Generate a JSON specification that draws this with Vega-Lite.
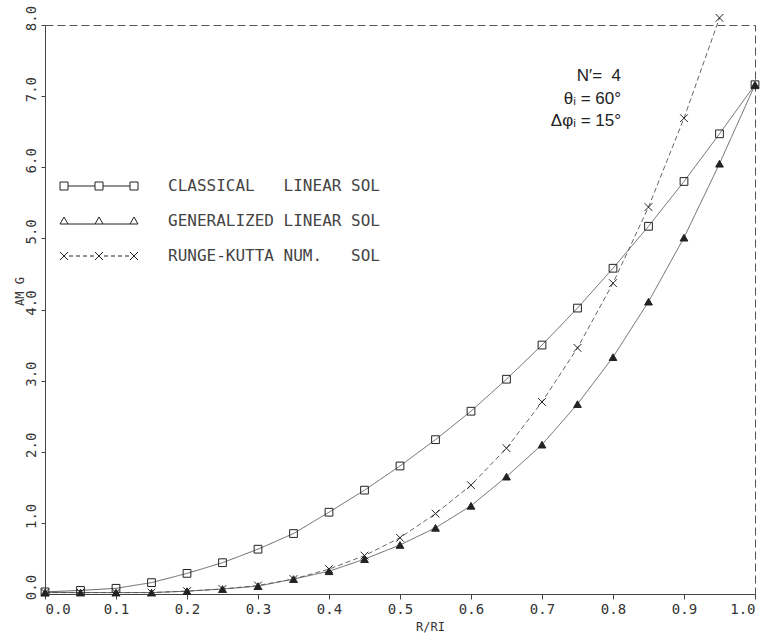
{
  "$schema": "https://vega.github.io/schema/vega-lite/v6.json",
  "autosize": {"type": "none"},
  "padding": {"left": 45, "top": 25, "right": 23, "bottom": 39},
  "width": 710,
  "height": 569,
  "background": "white",
  "config": {
    "view": {"stroke": "#555", "strokeDash": [8, 4], "strokeWidth": 1},
    "axis": {"grid": false, "domainColor": "#444", "tickColor": "#444", "labelColor": "#333", "titleColor": "#333", "labelFont": "DejaVu Sans Mono", "titleFont": "DejaVu Sans Mono", "titleFontWeight": "normal"}
  },
  "title": {
    "text": ["N′=\u00a0\u00a04", "θᵢ = 60°", "Δφᵢ = 15°"],
    "anchor": "end",
    "frame": "group",
    "align": "right",
    "baseline": "top",
    "offset": 0,
    "dx": -134,
    "dy": 125,
    "font": "Liberation Sans",
    "fontSize": 17,
    "fontWeight": "normal",
    "color": "#222",
    "lineHeight": 22.5
  },
  "datasets": {
    "curves": [
      {"x": 0.00, "y": 0.03, "series": "classical"},
      {"x": 0.05, "y": 0.05, "series": "classical"},
      {"x": 0.10, "y": 0.08, "series": "classical"},
      {"x": 0.15, "y": 0.16, "series": "classical"},
      {"x": 0.20, "y": 0.29, "series": "classical"},
      {"x": 0.25, "y": 0.44, "series": "classical"},
      {"x": 0.30, "y": 0.63, "series": "classical"},
      {"x": 0.35, "y": 0.85, "series": "classical"},
      {"x": 0.40, "y": 1.15, "series": "classical"},
      {"x": 0.45, "y": 1.46, "series": "classical"},
      {"x": 0.50, "y": 1.80, "series": "classical"},
      {"x": 0.55, "y": 2.17, "series": "classical"},
      {"x": 0.60, "y": 2.57, "series": "classical"},
      {"x": 0.65, "y": 3.02, "series": "classical"},
      {"x": 0.70, "y": 3.50, "series": "classical"},
      {"x": 0.75, "y": 4.02, "series": "classical"},
      {"x": 0.80, "y": 4.58, "series": "classical"},
      {"x": 0.85, "y": 5.17, "series": "classical"},
      {"x": 0.90, "y": 5.80, "series": "classical"},
      {"x": 0.95, "y": 6.47, "series": "classical"},
      {"x": 1.00, "y": 7.16, "series": "classical"},
      {"x": 0.00, "y": 0.02, "series": "generalized"},
      {"x": 0.05, "y": 0.02, "series": "generalized"},
      {"x": 0.10, "y": 0.02, "series": "generalized"},
      {"x": 0.15, "y": 0.02, "series": "generalized"},
      {"x": 0.20, "y": 0.04, "series": "generalized"},
      {"x": 0.25, "y": 0.07, "series": "generalized"},
      {"x": 0.30, "y": 0.11, "series": "generalized"},
      {"x": 0.35, "y": 0.21, "series": "generalized"},
      {"x": 0.40, "y": 0.32, "series": "generalized"},
      {"x": 0.45, "y": 0.49, "series": "generalized"},
      {"x": 0.50, "y": 0.69, "series": "generalized"},
      {"x": 0.55, "y": 0.93, "series": "generalized"},
      {"x": 0.60, "y": 1.24, "series": "generalized"},
      {"x": 0.65, "y": 1.65, "series": "generalized"},
      {"x": 0.70, "y": 2.10, "series": "generalized"},
      {"x": 0.75, "y": 2.67, "series": "generalized"},
      {"x": 0.80, "y": 3.33, "series": "generalized"},
      {"x": 0.85, "y": 4.11, "series": "generalized"},
      {"x": 0.90, "y": 5.01, "series": "generalized"},
      {"x": 0.95, "y": 6.05, "series": "generalized"},
      {"x": 1.00, "y": 7.16, "series": "generalized"},
      {"x": 0.00, "y": 0.02, "series": "rk"},
      {"x": 0.05, "y": 0.02, "series": "rk"},
      {"x": 0.10, "y": 0.02, "series": "rk"},
      {"x": 0.15, "y": 0.02, "series": "rk"},
      {"x": 0.20, "y": 0.04, "series": "rk"},
      {"x": 0.25, "y": 0.07, "series": "rk"},
      {"x": 0.30, "y": 0.12, "series": "rk"},
      {"x": 0.35, "y": 0.21, "series": "rk"},
      {"x": 0.40, "y": 0.35, "series": "rk"},
      {"x": 0.45, "y": 0.54, "series": "rk"},
      {"x": 0.50, "y": 0.79, "series": "rk"},
      {"x": 0.55, "y": 1.13, "series": "rk"},
      {"x": 0.60, "y": 1.53, "series": "rk"},
      {"x": 0.65, "y": 2.05, "series": "rk"},
      {"x": 0.70, "y": 2.70, "series": "rk"},
      {"x": 0.75, "y": 3.46, "series": "rk"},
      {"x": 0.80, "y": 4.37, "series": "rk"},
      {"x": 0.85, "y": 5.44, "series": "rk"},
      {"x": 0.90, "y": 6.69, "series": "rk"},
      {"x": 0.95, "y": 8.10, "series": "rk"}
    ],
    "legendItems": [
      {"label": "CLASSICAL\u00a0\u00a0 LINEAR SOL"},
      {"label": "GENERALIZED LINEAR SOL"},
      {"label": "RUNGE-KUTTA NUM.\u00a0\u00a0 SOL"}
    ]
  },
  "resolve": {"scale": {"shape": "independent", "fill": "independent"}, "legend": {"shape": "independent"}},
  "layer": [
    {
      "data": {"name": "curves"},
      "mark": {"type": "line", "stroke": "#555", "strokeWidth": 0.9, "clip": false},
      "encoding": {
        "x": {"field": "x", "type": "quantitative", "scale": {"domain": [0, 1], "nice": false},
          "axis": {"values": [0, 0.1, 0.2, 0.3, 0.4, 0.5, 0.6, 0.7, 0.8, 0.9, 1.0], "format": ".1f", "labelFontSize": 14, "tickSize": 5, "labelPadding": 3, "title": "R/RI", "titleFontSize": 12, "titleX": 385, "titleY": 27, "titleAnchor": null}},
        "y": {"field": "y", "type": "quantitative", "scale": {"domain": [0, 8], "nice": false},
          "axis": {"values": [0, 1, 2, 3, 4, 5, 6, 7, 8], "format": ".1f", "labelFontSize": 14, "labelAngle": 270, "labelAlign": "center", "labelBaseline": "bottom", "labelOffset": -7, "tickSize": 4, "labelPadding": 3, "title": "AM G", "titleFontSize": 12, "titleAngle": 270, "titleX": -26, "titleY": 266, "titleAlign": "center", "titleBaseline": "middle"}},
        "detail": {"field": "series"},
        "strokeDash": {"field": "series", "type": "nominal", "scale": {"domain": ["classical", "generalized", "rk"], "range": [[1, 0], [1, 0], [5, 3]]}, "legend": null}
      }
    },
    {
      "data": {"name": "curves"},
      "mark": {"type": "point", "filled": true, "size": 60, "stroke": "#222", "strokeWidth": 1, "opacity": 1, "clip": false},
      "encoding": {
        "x": {"field": "x", "type": "quantitative"},
        "y": {"field": "y", "type": "quantitative"},
        "shape": {"field": "series", "type": "nominal", "scale": {"domain": ["classical", "generalized", "rk"], "range": ["square", "triangle-up", "M-1,-1L1,1M-1,1L1,-1"]}, "legend": null},
        "fill": {"field": "series", "type": "nominal", "scale": {"domain": ["classical", "generalized", "rk"], "range": ["rgba(0,0,0,0)", "#222", "rgba(0,0,0,0)"]}, "legend": null}
      }
    },
    {
      "data": {"name": "legendItems"},
      "transform": [{"filter": "datum.label == 'none'"}],
      "mark": {"type": "point", "filled": false, "size": 4, "stroke": "#222", "strokeWidth": 1},
      "encoding": {
        "shape": {"field": "label", "type": "nominal",
          "scale": {"domain": ["CLASSICAL\u00a0\u00a0 LINEAR SOL", "GENERALIZED LINEAR SOL", "RUNGE-KUTTA NUM.\u00a0\u00a0 SOL"],
            "range": [
              "M-39,-4h8v8h-8zM-31,0H-4M-4,-4h8v8h-8zM4,0H31M31,-4h8v8h-8z",
              "M-39,3L-35,-4L-31,3ZM-31,3H-4M-4,3L0,-4L4,3ZM4,3H31M31,3L35,-4L39,3Z",
              "M-39,-4L-31,4M-39,4L-31,-4M-30,0H-26M-23,0H-19M-16,0H-12M-9,0H-5M-4,-4L4,4M-4,4L4,-4M5,0H9M12,0H16M19,0H23M26,0H30M31,-4L39,4M31,4L39,-4"
            ]},
          "legend": {"orient": "none", "legendX": 46, "legendY": 153, "title": null, "padding": 0, "labelFont": "DejaVu Sans Mono", "labelFontSize": 16, "labelColor": "#444", "labelLimit": 0, "labelOffset": 61, "symbolSize": 4, "symbolStrokeWidth": 1, "symbolStrokeColor": "#222", "symbolFillColor": "transparent", "symbolOpacity": 1, "rowPadding": 19}}
      }
    }
  ]
}
